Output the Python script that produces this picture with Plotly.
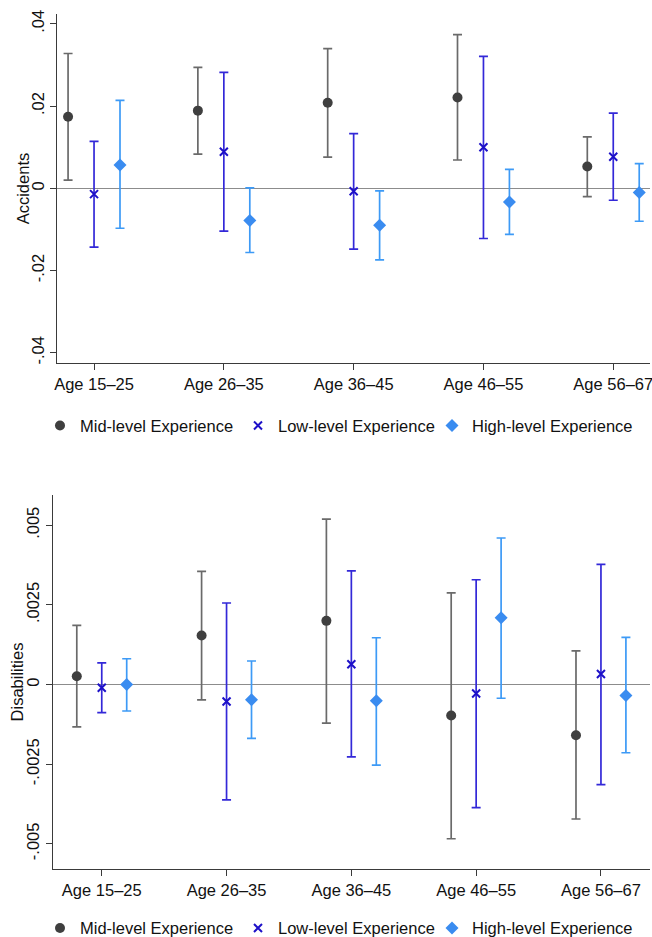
import plotly.graph_objects as go

# ---------------- data ----------------
age_groups = ["Age 15–25", "Age 26–35", "Age 36–45", "Age 46–55", "Age 56–67"]
series_names = ["Mid-level Experience", "Low-level Experience", "High-level Experience"]

# Accidents (top panel)
acc_mid_est = [0.0174, 0.0189, 0.0208, 0.0221, 0.0053]
acc_mid_hi = [0.0328, 0.0294, 0.0340, 0.0374, 0.0125]
acc_mid_lo = [0.0020, 0.0083, 0.0076, 0.0069, -0.0020]
acc_low_est = [-0.0014, 0.0089, -0.0007, 0.0100, 0.0077]
acc_low_hi = [0.0114, 0.0282, 0.0133, 0.0321, 0.0183]
acc_low_lo = [-0.0143, -0.0104, -0.0148, -0.0122, -0.0029]
acc_high_est = [0.0057, -0.0078, -0.0090, -0.0033, -0.0010]
acc_high_hi = [0.0214, 0.0001, -0.0006, 0.0046, 0.0060]
acc_high_lo = [-0.0097, -0.0156, -0.0174, -0.0112, -0.0080]

# Disabilities (bottom panel)
dis_mid_est = [0.00026, 0.00154, 0.00200, -0.00097, -0.00159]
dis_mid_hi = [0.00186, 0.00355, 0.00519, 0.00288, 0.00106]
dis_mid_lo = [-0.00133, -0.00048, -0.00121, -0.00484, -0.00422]
dis_low_est = [-0.00010, -0.00053, 0.00064, -0.00028, 0.00033]
dis_low_hi = [0.00068, 0.00256, 0.00357, 0.00329, 0.00377]
dis_low_lo = [-0.00088, -0.00362, -0.00227, -0.00386, -0.00314]
dis_high_est = [0.0, -0.00048, -0.00051, 0.00210, -0.00034]
dis_high_hi = [0.00081, 0.00074, 0.00147, 0.00460, 0.00148]
dis_high_lo = [-0.00083, -0.00169, -0.00253, -0.00043, -0.00214]

acc_ticks = [-0.04, -0.02, 0, 0.02, 0.04]
acc_ticktext = ["-.04", "-.02", "0", ".02", ".04"]
dis_ticks = [-0.005, -0.0025, 0, 0.0025, 0.005]
dis_ticktext = ["-.005", "-.0025", "0", ".0025", ".005"]

# ---------------- styles ----------------
FONT = "Liberation Sans, Arial, Helvetica, sans-serif"
FS = 16.5
W, H = 652, 937
styles = {
    "Mid-level Experience": dict(offset=-0.2, symbol="circle", size=10, color="#3f3f3f",
                                 ecolor="#6a6a6a", lw=0, text_px=79),
    "Low-level Experience": dict(offset=0.0, symbol="x-thin", size=8, color="#1d10c8",
                                 ecolor="#3328d8", lw=2, text_px=277),
    "High-level Experience": dict(offset=0.2, symbol="diamond", size=10, color="#3a8cf0",
                                  ecolor="#3d9af6", lw=0, text_px=471),
}
cat_pos = list(range(1, len(age_groups) + 1))


def px_x(p):
    return p / W


def px_y(p):
    return 1 - p / H


fig = go.Figure()
legend_layout = {}
legend_counter = [0]


def add_panel(ests, his, los, xa, ya, legend_y_px):
    for name, est, hi, lo in zip(series_names, ests, his, los):
        st = styles[name]
        legend_counter[0] += 1
        lname = "legend" if legend_counter[0] == 1 else f"legend{legend_counter[0]}"
        legend_layout[lname] = dict(
            orientation="h", x=px_x(st["text_px"] - 39), xanchor="left",
            y=px_y(legend_y_px), yanchor="middle",
            font=dict(family=FONT, size=FS, color="#111"),
            bgcolor="rgba(0,0,0,0)", borderwidth=0, itemclick=False,
        )
        xs = [c + st["offset"] for c in cat_pos]
        mk = dict(symbol=st["symbol"], size=st["size"], color=st["color"])
        if st["lw"]:
            mk["line"] = dict(width=st["lw"], color=st["color"])
        fig.add_trace(go.Scatter(
            x=xs, y=est, mode="markers", name=name, marker=mk,
            error_y=dict(type="data", symmetric=False,
                         array=[h - e for h, e in zip(hi, est)],
                         arrayminus=[e - l for e, l in zip(est, lo)],
                         color=st["ecolor"], thickness=1.7, width=4.5),
            xaxis=xa, yaxis=ya, legend=lname, showlegend=True,
        ))


add_panel([acc_mid_est, acc_low_est, acc_high_est],
          [acc_mid_hi, acc_low_hi, acc_high_hi],
          [acc_mid_lo, acc_low_lo, acc_high_lo], "x", "y", 425.7)
add_panel([dis_mid_est, dis_low_est, dis_high_est],
          [dis_mid_hi, dis_low_hi, dis_high_hi],
          [dis_mid_lo, dis_low_lo, dis_high_lo], "x2", "y2", 928.3)

axis_common = dict(showline=True, linecolor="#3a3a3a", linewidth=1.4, ticks="outside",
                   ticklen=6, tickwidth=1.3, tickcolor="#3a3a3a", showgrid=False,
                   tickfont=dict(family=FONT, size=FS, color="#111"), mirror=False)
x_common = dict(ticklabeloverflow="allow", zeroline=False, **axis_common)
y_common = dict(tickangle=-90, ticklabelstandoff=0, zeroline=True, zerolinecolor="#8c8c8c",
                zerolinewidth=1.2, **axis_common)

fig.update_layout(
    width=W, height=H,
    margin=dict(l=0, r=0, t=0, b=0, autoexpand=False),
    paper_bgcolor="white", plot_bgcolor="white",
    font=dict(family=FONT, size=FS, color="#111"),
    xaxis=dict(domain=[px_x(57.3), px_x(650)], range=[0.717, 5.283],
               tickvals=cat_pos, ticktext=age_groups, anchor="y", **x_common),
    yaxis=dict(domain=[px_y(362.7), px_y(14)], range=[-0.0424, 0.0424],
               tickvals=acc_ticks, ticktext=acc_ticktext, anchor="x", **y_common),
    xaxis2=dict(domain=[px_x(52.7), px_x(650)], range=[0.607, 5.393],
                tickvals=cat_pos, ticktext=age_groups, anchor="y2", **x_common),
    yaxis2=dict(domain=[px_y(868.7), px_y(495)], range=[-0.00578, 0.00595],
                tickvals=dis_ticks, ticktext=dis_ticktext, anchor="x2", **y_common),
    annotations=[
        dict(text="Accidents", x=px_x(23), y=px_y(188.3), xref="paper", yref="paper",
             showarrow=False, textangle=-90, font=dict(family=FONT, size=FS, color="#111"),
             xanchor="center", yanchor="middle"),
        dict(text="Disabilities", x=px_x(16.5), y=px_y(681.9), xref="paper", yref="paper",
             showarrow=False, textangle=-90, font=dict(family=FONT, size=FS, color="#111"),
             xanchor="center", yanchor="middle"),
    ],
    **legend_layout,
)

fig.write_html(
    "out.html",
    config={"displayModeBar": False},
    post_script="document.body.style.margin='0';document.body.style.overflow='hidden';",
)
